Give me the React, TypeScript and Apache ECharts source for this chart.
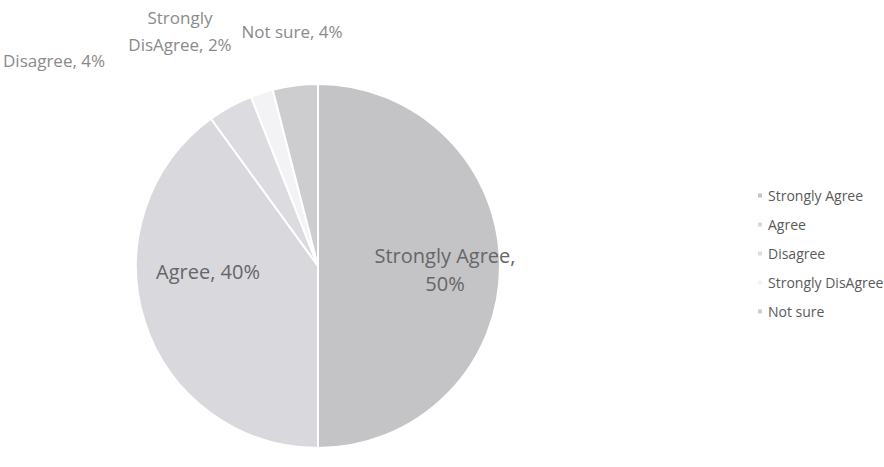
import React, { useEffect, useRef } from "react";
import * as echarts from "echarts";

const categories = ["Strongly Agree", "Agree", "Disagree", "Strongly DisAgree", "Not sure"];
const values = [50, 40, 4, 2, 4];
const colors = ["#c4c4c6", "#d9d9dd", "#dcdce0", "#f3f3f5", "#cdcdd0"];

export default function App() {
  const ref = useRef<HTMLDivElement>(null);
  useEffect(() => {
    const chart = echarts.init(ref.current!, null, { renderer: "svg" });
    const outside: Record<string, { x: number; y: number; align: string }> = {
      "Disagree": { x: 3, y: 60, align: "left" },
      "Strongly DisAgree": { x: 180, y: 31, align: "center" },
      "Not sure": { x: 292, y: 31, align: "center" },
    };
    chart.setOption({
      animation: false,
      backgroundColor: "#ffffff",
      textStyle: { fontFamily: "Open Sans" },
      legend: {
        orient: "vertical",
        left: 751,
        top: 181,
        itemWidth: 6,
        itemHeight: 6,
        itemGap: 10,
        icon: "rect",
        textStyle: { color: "#5a5a5a", fontSize: 14, fontFamily: "Open Sans", lineHeight: 19 },
        data: categories,
      },
      series: [
        {
          type: "pie",
          center: [318, 266],
          radius: 182,
          startAngle: 90,
          clockwise: true,
          itemStyle: { borderColor: "#ffffff", borderWidth: 2 },
          label: {
            show: true,
            position: "inside",
            formatter: (p: any) =>
              p.name === "Strongly Agree" ? `${p.name},\n${p.value}%` :
              p.name === "Strongly DisAgree" ? `Strongly\nDisAgree, ${p.value}%` :
              `${p.name}, ${p.value}%`,
            color: "#666666",
            fontSize: 20,
            lineHeight: 28,
            fontFamily: "Open Sans",
          },
          labelLine: { show: false },
          labelLayout: (params: any) => {
            const name = categories[params.dataIndex];
            const o = outside[name];
            if (o) return { x: o.x, y: o.y, align: o.align, verticalAlign: "middle" };
            if (name === "Agree") return { x: 208, y: 271, align: "center", verticalAlign: "middle" };
            return { x: 445, y: 269, align: "center", verticalAlign: "middle" };
          },
          data: categories.map((c, i) => ({
            name: c,
            value: values[i],
            itemStyle: { color: colors[i] },
            label: i >= 2 ? { color: "#8a8a8a", lineHeight: 27, fontSize: 17 } : undefined,
          })),
        },
      ],
    });
    return () => chart.dispose();
  }, []);
  return <div ref={ref} style={{ position: "absolute", left: 0, top: 0, width: 884, height: 467 }} />;
}
